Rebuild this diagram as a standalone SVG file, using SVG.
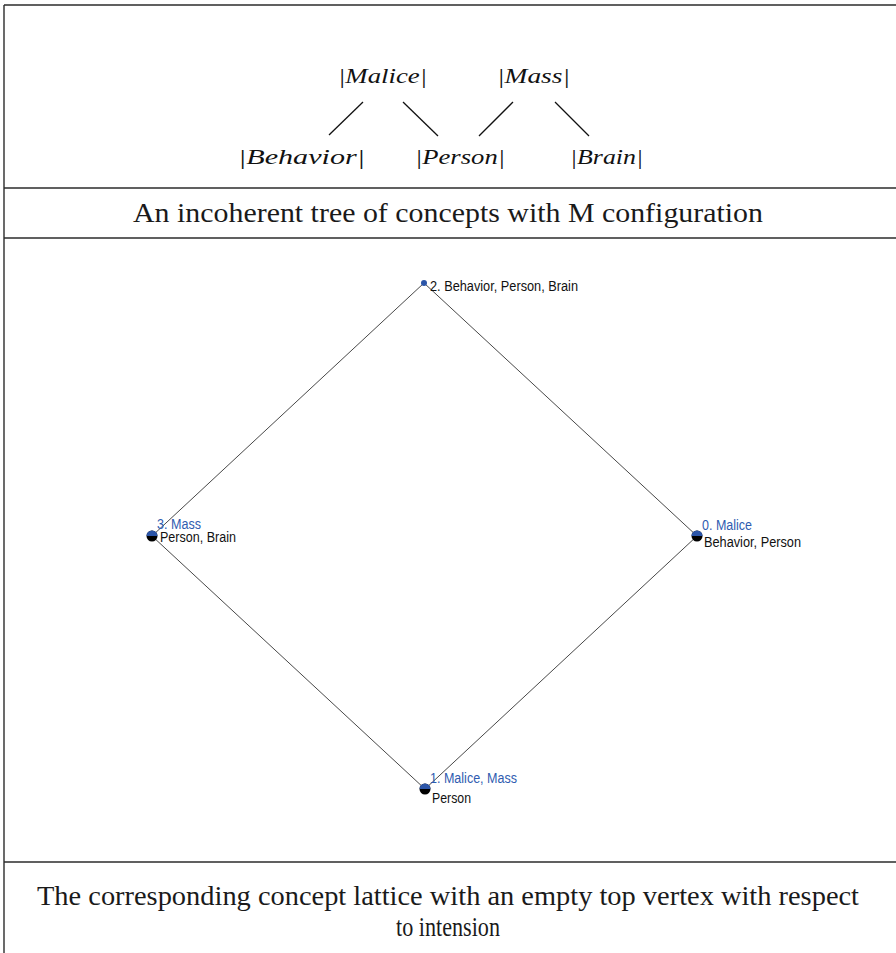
<svg xmlns="http://www.w3.org/2000/svg" width="896" height="953" viewBox="0 0 896 953">
  <style>
    .rule { stroke: #2b2b2b; stroke-width: 1.4; fill: none; }
    .math { font-family: "Liberation Serif", "DejaVu Serif", serif; font-style: italic; font-size: 20px; fill: #111; }
    .cap { font-family: "Liberation Serif", "DejaVu Serif", serif; font-size: 28px; fill: #1a1a1a; text-anchor: middle; }
    .tree-edge { stroke: #111; stroke-width: 1.3; }
    .edge { stroke: #333; stroke-width: 0.9; fill: none; }
    .lbl { font-family: "Liberation Sans", Arial, sans-serif; font-size: 14px; fill: #111; }
    .intent { font-family: "Liberation Sans", Arial, sans-serif; font-size: 14px; fill: #2f5cb0; }
  </style>
  <defs>
    <!-- two-tone vertex: blue upper half, black lower half -->
    <clipPath id="upper"><rect x="-10" y="-10" width="20" height="10"/></clipPath>
    <g id="vertex">
      <circle r="5.5" fill="#000"/>
      <circle r="5.5" fill="#2b55a8" clip-path="url(#upper)"/>
    </g>
  </defs>

  <rect width="896" height="953" fill="#fff"/>

  <!-- table frame -->
  <g id="frame">
    <line class="rule" x1="4" y1="5" x2="896" y2="5"/>
    <line class="rule" x1="4" y1="5" x2="4" y2="953"/>
    <line class="rule" x1="4" y1="188" x2="896" y2="188"/>
    <line class="rule" x1="4" y1="238" x2="896" y2="238"/>
    <line class="rule" x1="4" y1="862" x2="896" y2="862"/>
  </g>

  <!-- tree of concepts -->
  <g id="tree-edges">
    <line class="tree-edge" x1="363" y1="102" x2="329" y2="135"/>
    <line class="tree-edge" x1="403" y1="102" x2="438" y2="136"/>
    <line class="tree-edge" x1="513" y1="102" x2="479" y2="136"/>
    <line class="tree-edge" x1="555" y1="102" x2="589" y2="136"/>
  </g>
  <g id="t-malice"><text class="math" x="338" y="83" textLength="89" lengthAdjust="spacingAndGlyphs">|Malice|</text></g>
  <g id="t-mass"><text class="math" x="497" y="83" textLength="73" lengthAdjust="spacingAndGlyphs">|Mass|</text></g>
  <g id="t-behavior"><text class="math" x="238" y="164" textLength="127" lengthAdjust="spacingAndGlyphs">|Behavior|</text></g>
  <g id="t-person"><text class="math" x="415" y="164" textLength="90" lengthAdjust="spacingAndGlyphs">|Person|</text></g>
  <g id="t-brain"><text class="math" x="570" y="164" textLength="73" lengthAdjust="spacingAndGlyphs">|Brain|</text></g>

  <g id="caption-1"><text class="cap" x="448" y="222" textLength="630" lengthAdjust="spacingAndGlyphs">An incoherent tree of concepts with M configuration</text></g>

  <!-- concept lattice -->
  <g id="lattice-edges">
    <line class="edge" x1="424" y1="283" x2="152" y2="536"/>
    <line class="edge" x1="424" y1="283" x2="697" y2="536"/>
    <line class="edge" x1="152" y1="536" x2="425" y2="789"/>
    <line class="edge" x1="697" y1="536" x2="425" y2="789"/>
  </g>

  <g id="c2">
    <circle cx="424" cy="283" r="3" fill="#2b55a8"/>
    <text class="lbl" x="430" y="291" textLength="148" lengthAdjust="spacingAndGlyphs">2. Behavior, Person, Brain</text>
  </g>
  <g id="c3">
    <use href="#vertex" x="152" y="536"/>
    <text class="intent" x="157" y="529" textLength="44" lengthAdjust="spacingAndGlyphs">3. Mass</text>
    <text class="lbl" x="160" y="542" textLength="76" lengthAdjust="spacingAndGlyphs">Person, Brain</text>
  </g>
  <g id="c0">
    <use href="#vertex" x="697" y="536"/>
    <text class="intent" x="702" y="530" textLength="50" lengthAdjust="spacingAndGlyphs">0. Malice</text>
    <text class="lbl" x="704" y="547" textLength="97" lengthAdjust="spacingAndGlyphs">Behavior, Person</text>
  </g>
  <g id="c1">
    <use href="#vertex" x="425" y="789"/>
    <text class="intent" x="430" y="783" textLength="87" lengthAdjust="spacingAndGlyphs">1. Malice, Mass</text>
    <text class="lbl" x="432" y="803" textLength="39" lengthAdjust="spacingAndGlyphs">Person</text>
  </g>

  <g id="caption-2">
    <text class="cap" x="448" y="905" textLength="822" lengthAdjust="spacingAndGlyphs">The corresponding concept lattice with an empty top vertex with respect</text>
    <text class="cap" x="448" y="936" textLength="104" lengthAdjust="spacingAndGlyphs">to intension</text>
  </g>
</svg>
